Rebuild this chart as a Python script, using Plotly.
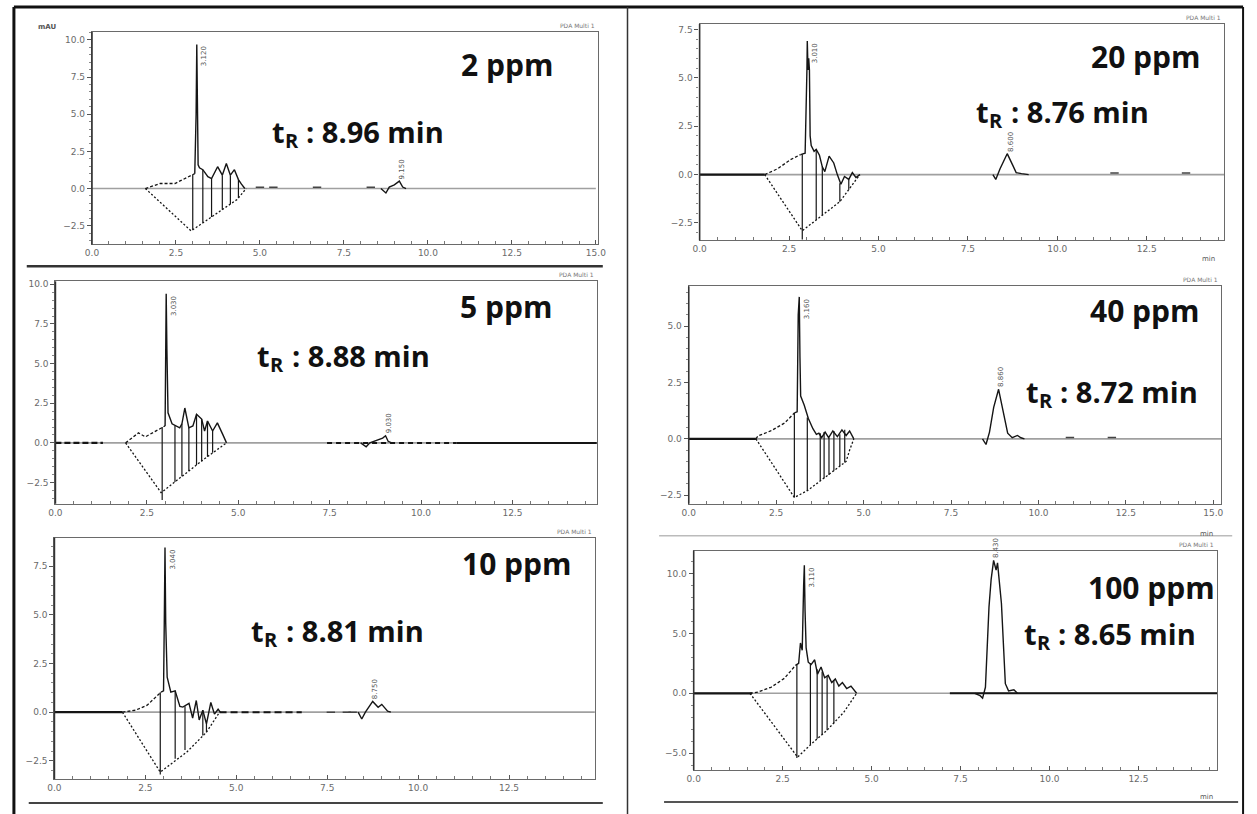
import plotly.graph_objects as go

W, H = 1257, 814

# ---------------- data (minutes, mAU) ----------------
# Panel 1 : 2 ppm
p1_base_t = [0, 15.0]; p1_base_v = [0, 0]
p1_arc_t = [1.59, 2.03, 2.47, 2.85, 3.06]
p1_arc_v = [0, 0.34, 0.34, 0.8, 1.0]
p1_sig_t = [3.06, 3.09, 3.10, 3.12, 3.14, 3.16, 3.20, 3.30, 3.45, 3.56, 3.74, 3.88, 4.00, 4.12, 4.24, 4.36, 4.45, 4.55]
p1_sig_v = [1.0, 3.6, 5.0, 9.7, 3.6, 1.6, 1.4, 1.27, 0.8, 0.67, 1.47, 0.9, 1.68, 0.9, 1.27, 0.6, 0.3, 0.0]
p1_vb_t = [1.59, 2.95, 4.32, 4.59]
p1_vb_v = [0, -2.85, -0.74, 0]
p1_drop_t = [3.00, 3.30, 3.56, 3.88, 4.12, 4.36]
p1_drop_hi = [0.95, 1.27, 0.67, 0.9, 0.9, 0.6]
p1_drop_lo = [-2.77, -2.31, -1.91, -1.42, -1.05, -0.63]
p1_pk_t = [8.60, 8.75, 8.85, 9.00, 9.15, 9.25, 9.35]
p1_pk_v = [0, -0.3, 0.1, 0.25, 0.5, 0.1, 0]
p1_blip_t = [5.0, 5.4, 6.7, 8.3]
p1_blip_v = [0.08, 0.08, 0.08, 0.08]

# Panel 2 : 20 ppm
p2_base_t = [0, 14.67]; p2_base_v = [0, 0]
p2_lead_t = [0, 1.82]; p2_lead_v = [0, 0]
p2_arc_t = [1.82, 2.18, 2.54, 2.82]
p2_arc_v = [0, 0.3, 0.77, 1.03]
p2_sig_t = [2.82, 2.95, 3.00, 3.01, 3.03, 3.05, 3.07, 3.09, 3.12, 3.20, 3.26, 3.35, 3.43, 3.50, 3.62, 3.75, 3.85, 3.95, 4.05, 4.17, 4.27, 4.37, 4.48]
p2_sig_v = [1.03, 1.1, 5.4, 6.9, 5.4, 6.0, 5.4, 2.0, 1.5, 1.2, 1.3, 1.0, 0.4, 0.15, 0.95, 0.6, 0.0, -0.5, -0.1, -0.25, 0.1, -0.15, 0]
p2_vb_t = [1.82, 2.87, 3.92, 4.48]
p2_vb_v = [0, -2.9, -1.4, 0]
p2_drop_t = [2.87, 3.26, 3.43, 3.92, 4.17]
p2_drop_hi = [1.05, 1.3, 0.4, -0.45, -0.25]
p2_drop_lo = [-3.35, -2.34, -2.1, -1.4, -0.78]
p2_pk_t = [8.20, 8.28, 8.40, 8.60, 8.75, 8.85, 9.00, 9.20]
p2_pk_v = [0, -0.25, 0.3, 1.08, 0.5, 0.1, 0.05, 0]
p2_blip_t = [11.6, 13.6]
p2_blip_v = [0.08, 0.08]

# Panel 3 : 5 ppm
p3_base_t = [0, 14.81]; p3_base_v = [0, 0]
p3_lead_t = [0, 1.3]; p3_lead_v = [0, 0]
p3_arc_t = [1.92, 2.27, 2.46, 2.65, 2.86, 3.00]
p3_arc_v = [0, 0.63, 0.38, 0.63, 0.88, 1.07]
p3_sig_t = [3.00, 3.01, 3.03, 3.05, 3.07, 3.08, 3.19, 3.27, 3.40, 3.46, 3.54, 3.65, 3.76, 3.86, 4.00, 4.08, 4.16, 4.30, 4.43, 4.57, 4.68]
p3_sig_v = [1.07, 5.8, 9.4, 5.8, 2.0, 1.9, 1.2, 1.1, 0.95, 1.2, 2.2, 0.95, 1.07, 1.8, 1.5, 0.75, 1.38, 0.75, 1.26, 0.57, 0]
p3_vb_t = [1.92, 2.89, 4.08, 4.68]
p3_vb_v = [0, -3.14, -1.0, 0]
p3_drop_t = [2.92, 3.27, 3.46, 3.65, 3.86, 4.00, 4.16, 4.30]
p3_drop_hi = [1.0, 1.1, 1.2, 0.95, 1.8, 1.5, 1.38, 0.75]
p3_drop_lo = [-3.6, -2.46, -2.11, -1.77, -1.39, -1.14, -0.88, -0.62]
p3_pk_t = [8.35, 8.50, 8.60, 8.80, 8.95, 9.03, 9.10, 9.20]
p3_pk_v = [0, -0.25, 0.0, 0.15, 0.3, 0.45, 0.1, 0]
p3_tail1_t = [7.43, 10.97]; p3_tail1_v = [0, 0]
p3_tail2_t = [10.97, 14.81]; p3_tail2_v = [0, 0]

# Panel 4 : 40 ppm
p4_base_t = [0, 15.23]; p4_base_v = [0, 0]
p4_lead_t = [0, 1.92]; p4_lead_v = [0, 0]
p4_arc_t = [1.92, 1.98, 2.34, 2.74, 3.02]
p4_arc_v = [0, 0.13, 0.35, 0.7, 1.15]
p4_sig_t = [3.02, 3.10, 3.13, 3.16, 3.18, 3.20, 3.30, 3.42, 3.55, 3.65, 3.72, 3.80, 3.90, 4.00, 4.12, 4.25, 4.38, 4.50, 4.60, 4.72]
p4_sig_v = [1.15, 1.2, 5.5, 6.3, 3.6, 1.9, 1.5, 0.9, 0.45, 0.2, 0.25, 0.05, 0.3, 0.05, 0.35, 0.1, 0.4, 0.15, 0.35, 0]
p4_vb_t = [1.92, 3.02, 3.39, 3.76, 4.15, 4.50, 4.60, 4.72]
p4_vb_v = [0, -2.6, -2.3, -1.86, -1.42, -1.0, -0.5, 0]
p4_drop_t = [3.02, 3.39, 3.76, 3.87, 4.01, 4.15, 4.32, 4.46]
p4_drop_hi = [1.15, 0.95, 0.25, 0.3, 0.05, 0.35, 0.2, 0.4]
p4_drop_lo = [-2.6, -2.3, -1.86, -1.75, -1.6, -1.42, -1.2, -1.05]
p4_pk_t = [8.40, 8.50, 8.60, 8.72, 8.86, 9.00, 9.12, 9.25, 9.40, 9.50, 9.60]
p4_pk_v = [0, -0.25, 0.3, 1.4, 2.2, 1.2, 0.25, 0.05, 0.15, 0.05, 0]
p4_blip_t = [10.9, 12.1]
p4_blip_v = [0.06, 0.06]

# Panel 5 : 10 ppm
p5_base_t = [0, 14.86]; p5_base_v = [0, 0]
p5_lead_t = [0, 1.87]; p5_lead_v = [0, 0]
p5_arc_t = [1.87, 2.23, 2.55, 2.83, 2.93]
p5_arc_v = [0, 0.1, 0.36, 0.87, 1.03]
p5_sig_t = [2.93, 3.00, 3.02, 3.04, 3.06, 3.08, 3.10, 3.20, 3.32, 3.45, 3.53, 3.70, 3.80, 3.90, 3.98, 4.08, 4.18, 4.30, 4.40, 4.50, 4.56]
p5_sig_v = [1.03, 1.1, 4.56, 8.46, 4.56, 2.0, 1.8, 1.03, 1.1, 0.3, 0.26, 0.45, -0.3, 0.6, -0.4, 0.1, -0.6, 0.5, -0.1, 0.15, 0]
p5_vb_t = [1.87, 2.91, 3.64, 4.18, 4.54]
p5_vb_v = [0, -3.08, -2.05, -1.03, 0]
p5_drop_t = [2.91, 3.32, 3.59, 4.08, 4.18]
p5_drop_hi = [1.03, 1.1, 0.3, 0.1, -0.6]
p5_drop_lo = [-3.2, -2.4, -1.95, -1.2, -1.03]
p5_pk_t = [8.35, 8.45, 8.55, 8.75, 8.90, 9.00, 9.16, 9.25]
p5_pk_v = [0, -0.35, 0.0, 0.55, 0.25, 0.4, 0.05, 0]
p5_tail1_t = [4.54, 6.8]; p5_tail1_v = [0, 0]
p5_blip_t = [7.6, 8.04, 8.2]
p5_blip_v = [0.0, 0.0, 0.0]

# Panel 6 : 100 ppm
p6_base_t = [0, 14.72]; p6_base_v = [0, 0]
p6_lead_t = [0, 1.64]; p6_lead_v = [0, 0]
p6_arc_t = [1.58, 1.80, 2.17, 2.55, 2.86]
p6_arc_v = [0, 0.1, 0.5, 1.25, 2.33]
p6_sig_t = [2.86, 2.95, 3.00, 3.05, 3.09, 3.11, 3.13, 3.16, 3.22, 3.30, 3.40, 3.48, 3.58, 3.68, 3.78, 3.88, 3.98, 4.08, 4.18, 4.30, 4.42, 4.52, 4.58]
p6_sig_v = [2.33, 2.5, 4.2, 3.6, 9.0, 10.7, 6.9, 3.8, 2.6, 2.4, 2.8, 1.6, 2.2, 1.3, 1.5, 0.9, 1.2, 0.6, 0.9, 0.4, 0.6, 0.2, 0]
p6_vb_t = [1.58, 2.92, 3.33, 3.75, 4.22, 4.58]
p6_vb_v = [0, -5.33, -4.17, -3.08, -1.58, 0]
p6_drop_t = [2.90, 3.28, 3.47, 3.61, 3.75, 3.94]
p6_drop_hi = [2.4, 2.5, 2.0, 1.8, 1.4, 1.1]
p6_drop_lo = [-5.4, -4.3, -3.8, -3.45, -3.08, -2.5]
p6_pk_t = [7.90, 8.05, 8.12, 8.20, 8.30, 8.36, 8.43, 8.50, 8.54, 8.60, 8.65, 8.76, 8.85, 9.00, 9.10]
p6_pk_v = [0, -0.2, -0.4, 0.5, 7.2, 9.5, 11.1, 10.3, 10.9, 9.0, 7.5, 0.8, 0.2, 0.3, 0]
p6_tail1_t = [7.2, 14.72]; p6_tail1_v = [0, 0]

# labels
conc_labels = ["2 ppm", "20 ppm", "5 ppm", "40 ppm", "10 ppm", "100 ppm"]
tr_values = ["8.96", "8.76", "8.88", "8.72", "8.81", "8.65"]

# ---------------- layout helpers ----------------
def px(x):
    return x / W

def py(y):
    return 1 - y / H

# (left, right, top, bottom) pixel box of each plot area, x max, y range, y tick step
boxes = [
    (86, 598, 30, 243, 15.06, -3.76, 10.54, 2.5),
    (701, 1232, 22, 239, 14.67, -3.40, 7.78, 2.5),
    (49, 597, 280, 503, 14.81, -3.84, 10.19, 2.5),
    (690, 1229, 285, 503, 15.23, -2.88, 6.77, 2.5),
    (48, 595, 537, 779, 14.86, -3.44, 8.97, 2.5),
    (695, 1225, 550, 770, 14.72, -6.42, 11.92, 5.0),
]
conc_pos = [(506, 63), (1153, 55), (505, 305), (1152, 309), (516, 563), (1158, 587)]
tr_pos = [(356, 130), (1069, 110), (341, 354), (1119, 390), (335, 630), (1117, 633)]

fig = go.Figure()

BLK = "#151515"

def line(i, t, v, color=BLK, width=1.3, dash="solid"):
    ax = "" if i == 1 else str(i)
    fig.add_trace(go.Scatter(x=t, y=v, mode="lines", xaxis="x" + ax, yaxis="y" + ax,
                             line=dict(color=color, width=width, dash=dash),
                             showlegend=False, hoverinfo="skip"))

def drops(i, t, hi, lo):
    xs, ys = [], []
    for a, b, c in zip(t, hi, lo):
        xs += [a, a, None]
        ys += [b, c, None]
    line(i, xs, ys, width=1.2)

def blips(i, t, v):
    ax = "" if i == 1 else str(i)
    fig.add_trace(go.Scatter(x=t, y=v, mode="markers", xaxis="x" + ax, yaxis="y" + ax,
                             marker=dict(symbol="line-ew", size=6, line=dict(color="#444", width=1.5)),
                             showlegend=False, hoverinfo="skip"))

panels = [
    dict(base=(p1_base_t, p1_base_v), lead=None, arc=(p1_arc_t, p1_arc_v), sig=(p1_sig_t, p1_sig_v),
         vb=(p1_vb_t, p1_vb_v), drop=(p1_drop_t, p1_drop_hi, p1_drop_lo), pk=(p1_pk_t, p1_pk_v),
         blip=(p1_blip_t, p1_blip_v), tails=[]),
    dict(base=(p2_base_t, p2_base_v), lead=(p2_lead_t, p2_lead_v, "solid"), arc=(p2_arc_t, p2_arc_v),
         sig=(p2_sig_t, p2_sig_v), vb=(p2_vb_t, p2_vb_v), drop=(p2_drop_t, p2_drop_hi, p2_drop_lo),
         pk=(p2_pk_t, p2_pk_v), blip=(p2_blip_t, p2_blip_v), tails=[]),
    dict(base=(p3_base_t, p3_base_v), lead=(p3_lead_t, p3_lead_v, "6px,3px"), arc=(p3_arc_t, p3_arc_v),
         sig=(p3_sig_t, p3_sig_v), vb=(p3_vb_t, p3_vb_v), drop=(p3_drop_t, p3_drop_hi, p3_drop_lo),
         pk=(p3_pk_t, p3_pk_v), blip=None,
         tails=[(p3_tail1_t, p3_tail1_v, "5px,4px"), (p3_tail2_t, p3_tail2_v, "solid")]),
    dict(base=(p4_base_t, p4_base_v), lead=(p4_lead_t, p4_lead_v, "solid"), arc=(p4_arc_t, p4_arc_v),
         sig=(p4_sig_t, p4_sig_v), vb=(p4_vb_t, p4_vb_v), drop=(p4_drop_t, p4_drop_hi, p4_drop_lo),
         pk=(p4_pk_t, p4_pk_v), blip=(p4_blip_t, p4_blip_v), tails=[]),
    dict(base=(p5_base_t, p5_base_v), lead=(p5_lead_t, p5_lead_v, "solid"), arc=(p5_arc_t, p5_arc_v),
         sig=(p5_sig_t, p5_sig_v), vb=(p5_vb_t, p5_vb_v), drop=(p5_drop_t, p5_drop_hi, p5_drop_lo),
         pk=(p5_pk_t, p5_pk_v), blip=(p5_blip_t, p5_blip_v),
         tails=[(p5_tail1_t, p5_tail1_v, "7px,4px")]),
    dict(base=(p6_base_t, p6_base_v), lead=(p6_lead_t, p6_lead_v, "solid"), arc=(p6_arc_t, p6_arc_v),
         sig=(p6_sig_t, p6_sig_v), vb=(p6_vb_t, p6_vb_v), drop=(p6_drop_t, p6_drop_hi, p6_drop_lo),
         pk=(p6_pk_t, p6_pk_v), blip=None, tails=[(p6_tail1_t, p6_tail1_v, "solid")]),
]

layout = dict(width=W, height=H, margin=dict(l=0, r=0, t=0, b=0),
              paper_bgcolor="white", plot_bgcolor="white", showlegend=False)
annotations = []
shapes = []

def note(x, y, text, size, xanchor="center", yanchor="middle", color="#111", weight="bold",
         family="Open Sans"):
    annotations.append(dict(x=px(x), y=py(y), xref="paper", yref="paper", text=text,
                            showarrow=False, xanchor=xanchor, yanchor=yanchor,
                            font=dict(size=size, color=color, family=family, weight=weight)))

for k, (p, b) in enumerate(zip(panels, boxes)):
    i = k + 1
    ax = "" if i == 1 else str(i)
    L, R, T, B, xmax, ymin, ymax, ystep = b
    line(i, *p["base"], color="#a0a0a0", width=1.6)
    if p["lead"]:
        t, v, d = p["lead"]
        line(i, t, v, width=2.2, dash=d)
    for t, v, d in p["tails"]:
        line(i, t, v, width=2.0, dash=d)
    line(i, *p["arc"], width=1.3, dash="3px,2px")
    line(i, *p["vb"], width=1.3, dash="2px,2px")
    drops(i, *p["drop"])
    line(i, *p["sig"], width=1.4)
    line(i, *p["pk"], width=1.4)
    if p["blip"]:
        blips(i, *p["blip"])

    layout["xaxis" + ax] = dict(
        domain=[px(L), px(R)], range=[0, xmax], anchor="y" + ax,
        showgrid=False, zeroline=False, showline=True, mirror=True,
        linecolor="#6a6a6a", linewidth=1.3,
        ticks="inside", ticklen=4, tickcolor="#555", dtick=2.5, tick0=0,
        tickformat=".1f", tickfont=dict(size=9, color="#6a6a6a", family="DejaVu Sans"),
        minor=dict(ticks="inside", ticklen=3, dtick=0.5, tickcolor="#777"),
    )
    layout["yaxis" + ax] = dict(
        domain=[py(B), py(T)], range=[ymin, ymax], anchor="x" + ax,
        showgrid=False, zeroline=False, showline=True, mirror=True,
        linecolor="#6a6a6a", linewidth=1.3,
        ticks="outside", ticklen=4, tickcolor="#555", dtick=ystep, tick0=0,
        tickformat=".1f", tickfont=dict(size=9, color="#6a6a6a", family="DejaVu Sans"),
        minor=dict(ticks="outside", ticklen=2, dtick=ystep / 5, tickcolor="#888"),
    )
    # darker left axis
    shapes.append(dict(type="line", xref="paper", yref="paper", x0=px(L), x1=px(L),
                       y0=py(B), y1=py(T), line=dict(color="#333", width=1.6)))

    # peak labels (retention times of the tallest points)
    for n_lab, (arr_t, arr_v) in enumerate((p["sig"], p["pk"])):
        j = max(range(len(arr_v)), key=lambda n: arr_v[n])
        annotations.append(dict(x=arr_t[j], y=arr_v[j], xref="x" + ax, yref="y" + ax,
                                text=f"{arr_t[j]:.3f}", textangle=-90, showarrow=False,
                                xanchor="left", yanchor="top" if n_lab == 0 else "bottom",
                                xshift=2 if n_lab == 0 else -3,
                                font=dict(size=7, color="#555", family="DejaVu Sans")))

    # PDA label just at the top-right corner of the frame
    note(R - 1, T - 1, "PDA Multi 1", 6, xanchor="right", yanchor="bottom", color="#777",
         weight="normal", family="DejaVu Sans")

    cx, cy = conc_pos[k]
    note(cx, cy, conc_labels[k], 30)

    # t_R label built from three pieces (t, subscript R, rest)
    tx, ty = tr_pos[k]
    x0 = tx - 90
    note(x0, ty, "t", 29, xanchor="left")
    note(x0 + 13, ty + 9, "R", 20, xanchor="left")
    note(x0 + 35, ty, ": " + tr_values[k] + " min", 29, xanchor="left")

# small unit labels
note(40, 25, "mAU", 7, color="#555", family="DejaVu Sans")
for (mx, my) in [(1216, 258), (1214, 533), (1214, 797)]:
    note(mx, my, "min", 7, color="#555", weight="normal", family="DejaVu Sans")

# frame and separators
def seg(x0, y0, x1, y1, color="#111", width=2):
    shapes.append(dict(type="line", xref="paper", yref="paper", x0=px(x0), y0=py(y0),
                       x1=px(x1), y1=py(y1), line=dict(color=color, width=width)))

seg(7, 5, 1251, 5, width=3)
seg(7, 5, 7, 814, width=3)
seg(1251, 5, 1251, 814, width=2)
seg(628, 5, 628, 814, color="#333", width=1.5)
seg(20, 265, 603, 265, color="#333", width=2.5)
seg(22, 803, 603, 803, color="#444", width=2)
seg(665, 802, 1246, 802, color="#555", width=2)
seg(660, 535, 1240, 535, color="#bbb", width=1.5)

layout["annotations"] = annotations
layout["shapes"] = shapes
fig.update_layout(**layout)
fig.write_html("out.html")
